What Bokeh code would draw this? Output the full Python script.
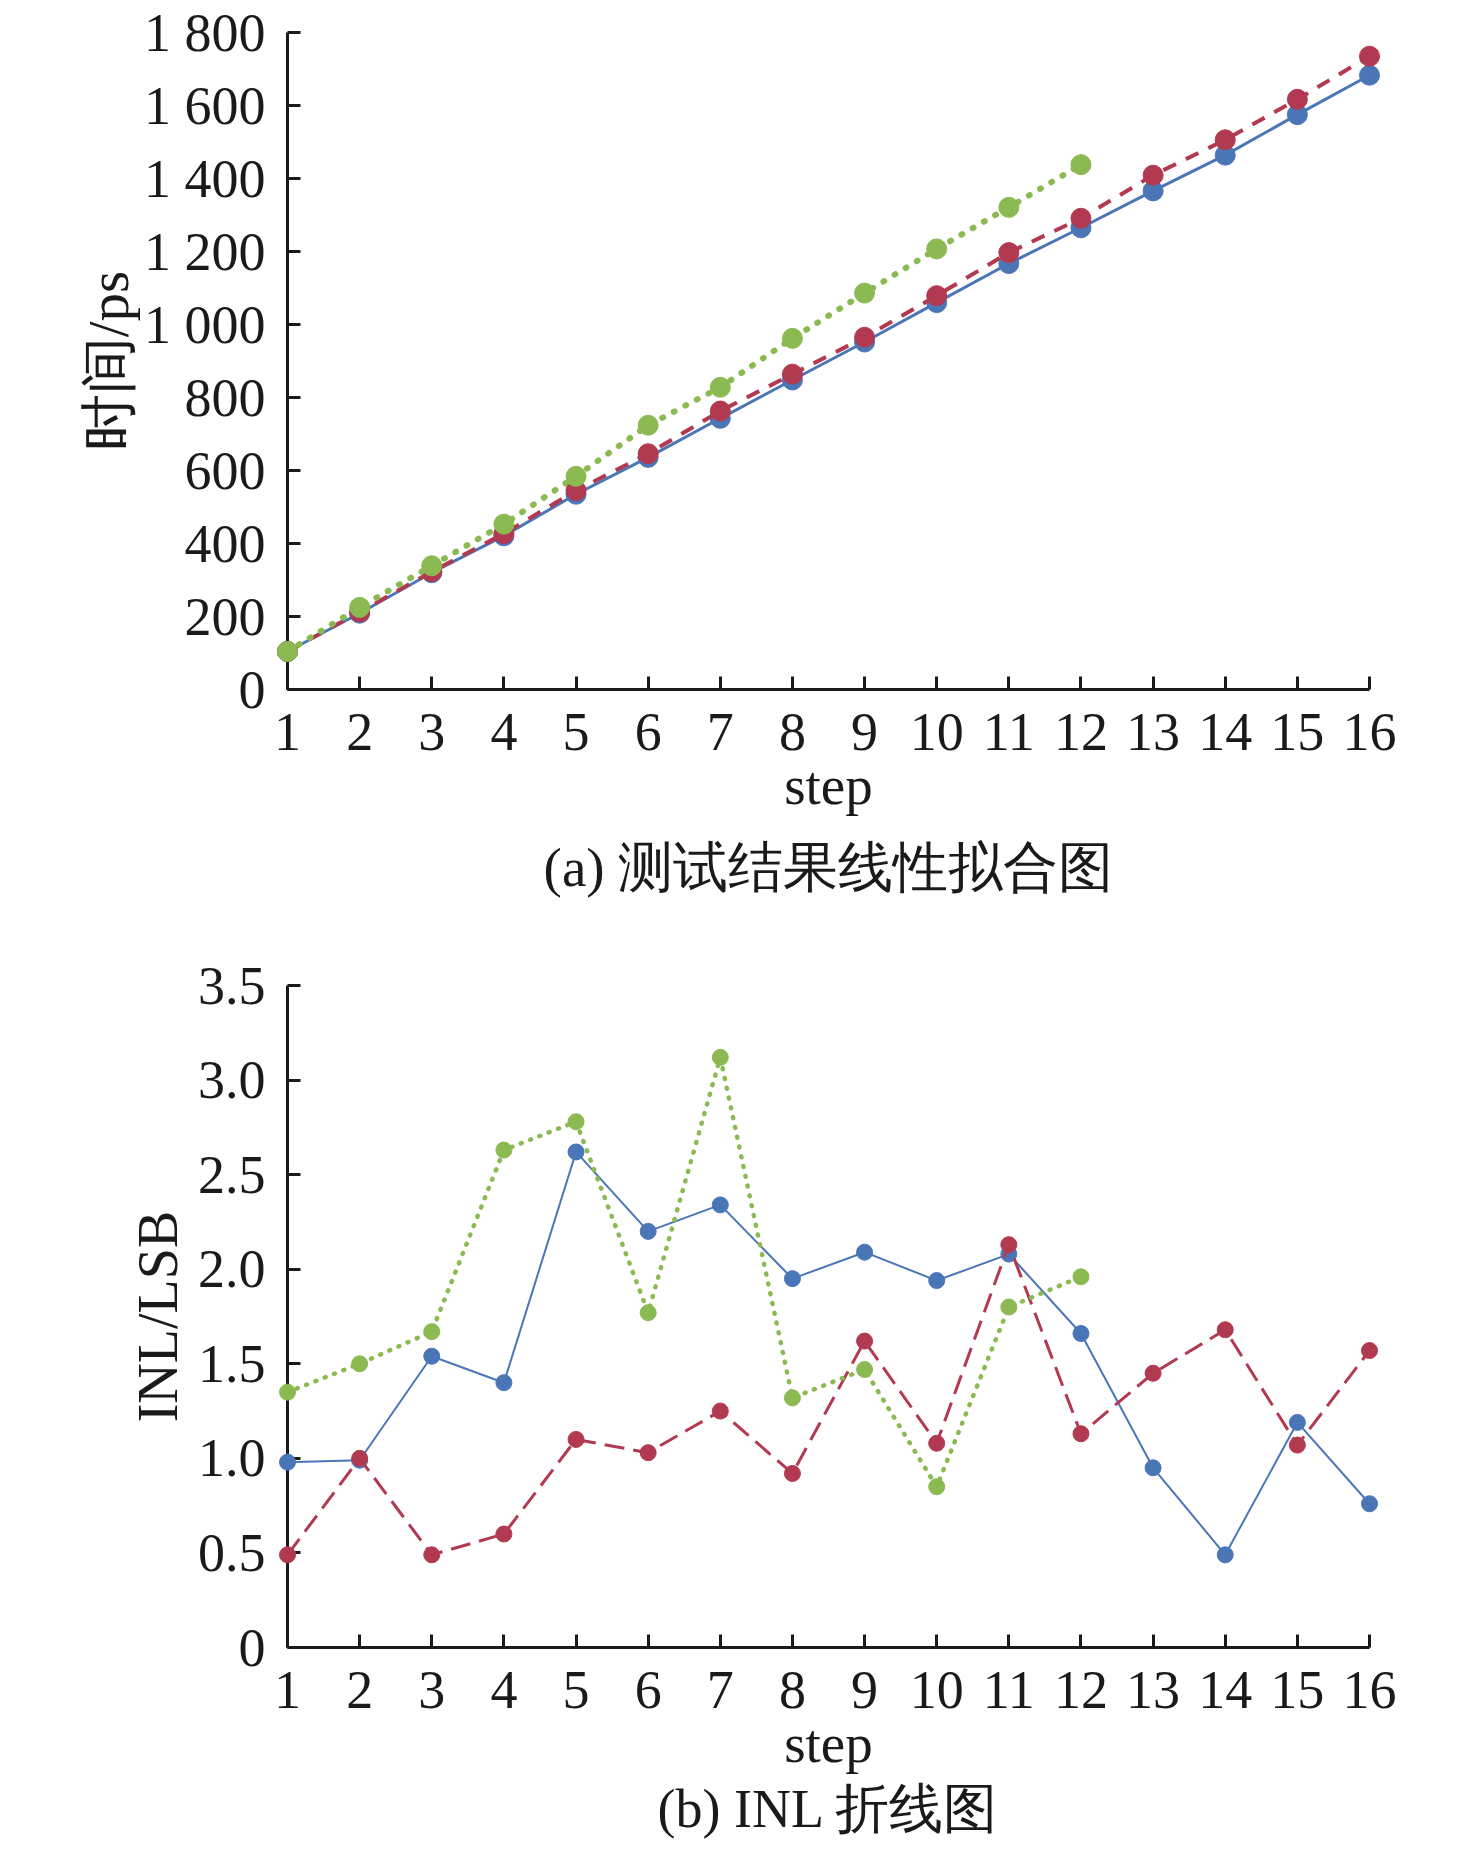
from bokeh.plotting import figure
from bokeh.layouts import column
from bokeh.models import FixedTicker, Range1d
from bokeh.core.properties import value
from bokeh.embed import file_html
from bokeh.resources import INLINE

# ---------------- data ----------------
steps = list(range(1, 17))
steps12 = list(range(1, 13))

time_blue = [104, 209, 320, 421, 535, 636, 743, 848, 952, 1060, 1167, 1265, 1366, 1464, 1575, 1683]
time_red = [104, 212, 323, 427, 545, 646, 763, 864, 965, 1079, 1197, 1291, 1409, 1506, 1617, 1735]
time_green = [104, 225, 339, 453, 584, 724, 828, 962, 1086, 1207, 1321, 1438]

inl_blue = [0.98, 0.99, 1.54, 1.40, 2.62, 2.20, 2.34, 1.95, 2.09, 1.94, 2.08, 1.66, 0.95, 0.49, 1.19, 0.76]
inl_red = [0.49, 1.00, 0.49, 0.60, 1.10, 1.03, 1.25, 0.92, 1.62, 1.08, 2.13, 1.13, 1.45, 1.68, 1.07, 1.57]
inl_green = [1.35, 1.50, 1.67, 2.63, 2.78, 1.77, 3.12, 1.32, 1.47, 0.85, 1.80, 1.96]

time_ticks = [0, 200, 400, 600, 800, 1000, 1200, 1400, 1600, 1800]
time_tick_labels = ["0", "200", "400", "600", "800", "1 000", "1 200", "1 400", "1 600", "1 800"]
inl_ticks = [0, 0.5, 1.0, 1.5, 2.0, 2.5, 3.0, 3.5]
inl_tick_labels = ["0", "0.5", "1.0", "1.5", "2.0", "2.5", "3.0", "3.5"]

caption_a = "(a) 测试结果线性拟合图"
caption_b = "(b) INL 折线图"

BLUE = "#4A76B8"
RED = "#B23A50"
GREEN = "#8CBA52"
INK = "#1a1a1a"
FONT = "Liberation Serif"


def style(p, yticks, ylabels, ylabel, ylabel_size, label_standoff_y):
    p.outline_line_color = None
    p.xgrid.grid_line_color = None
    p.ygrid.grid_line_color = None
    p.background_fill_color = "white"
    p.border_fill_color = "white"
    for ax in (p.xaxis[0], p.yaxis[0]):
        ax.axis_line_width = 3
        ax.axis_line_color = INK
        ax.major_tick_line_width = 3
        ax.major_tick_line_color = INK
        ax.major_tick_in = 13
        ax.major_tick_out = 0
        ax.minor_tick_line_color = None
        ax.major_label_text_font = FONT
        ax.major_label_text_font_size = "54px"
        ax.major_label_text_color = INK
        ax.axis_label_text_font = FONT
        ax.axis_label_text_font_size = "55px"
        ax.axis_label_text_font_style = "normal"
        ax.axis_label_text_color = INK
    p.xaxis.ticker = FixedTicker(ticks=steps)
    p.xaxis.axis_label = "step"
    p.xaxis.major_label_standoff = 24
    p.xaxis.axis_label_standoff = 2
    p.yaxis.ticker = FixedTicker(ticks=yticks)
    p.yaxis.major_label_overrides = {t: l for t, l in zip(yticks, ylabels)}
    p.yaxis.axis_label = ylabel
    p.yaxis.axis_label_text_font_size = ylabel_size
    p.yaxis.major_label_standoff = 22
    p.yaxis.axis_label_standoff = label_standoff_y


def caption(p, y, text, size):
    r = p.text(x=[8.5], y=[y], text=[text], text_align="center", text_baseline="middle",
               text_font=value(FONT), text_font_size=size, text_color=INK)
    r.level = "overlay"


# ---------------- (a) ----------------
p1 = figure(width=1460, height=930, output_backend="svg", toolbar_location=None,
            x_range=Range1d(1, 16), y_range=Range1d(0, 1800),
            min_border_left=287, min_border_right=88, min_border_top=32, min_border_bottom=241)
style(p1, time_ticks, time_tick_labels, "时间/ps", "57px", 1)

r = p1.line(steps, time_blue, line_color=BLUE, line_width=3)
r.level = "overlay"
r = p1.scatter(steps, time_blue, size=20, fill_color=BLUE, line_color=BLUE)
r.level = "overlay"
r = p1.line(steps, time_red, line_color=RED, line_width=4, line_dash="14 11")
r.level = "overlay"
r = p1.scatter(steps, time_red, size=20, fill_color=RED, line_color=RED)
r.level = "overlay"
r = p1.line(steps12, time_green, line_color=GREEN, line_width=6, line_dash="1 12", line_cap="round")
r.level = "overlay"
r = p1.scatter(steps12, time_green, size=20, fill_color=GREEN, line_color=GREEN)
r.level = "overlay"

caption(p1, -489, caption_a, "55px")

# ---------------- (b) ----------------
p2 = figure(width=1460, height=916, output_backend="svg", toolbar_location=None,
            x_range=Range1d(1, 16), y_range=Range1d(0, 3.5),
            min_border_left=283, min_border_right=91, min_border_top=55, min_border_bottom=199)
style(p2, inl_ticks, inl_tick_labels, "INL/LSB", "56px", 6)

r = p2.line(steps, inl_blue, line_color=BLUE, line_width=2)
r.level = "overlay"
r = p2.scatter(steps, inl_blue, size=16, fill_color=BLUE, line_color=BLUE)
r.level = "overlay"
r = p2.line(steps, inl_red, line_color=RED, line_width=3, line_dash="20 9")
r.level = "overlay"
r = p2.scatter(steps, inl_red, size=16, fill_color=RED, line_color=RED)
r.level = "overlay"
r = p2.line(steps12, inl_green, line_color=GREEN, line_width=4.5, line_dash="1 9", line_cap="round")
r.level = "overlay"
r = p2.scatter(steps12, inl_green, size=16, fill_color=GREEN, line_color=GREEN)
r.level = "overlay"

caption(p2, -0.855, caption_b, "54px")

layout = column(p1, p2, spacing=0)
open("out.html", "w").write(file_html(layout, INLINE))
